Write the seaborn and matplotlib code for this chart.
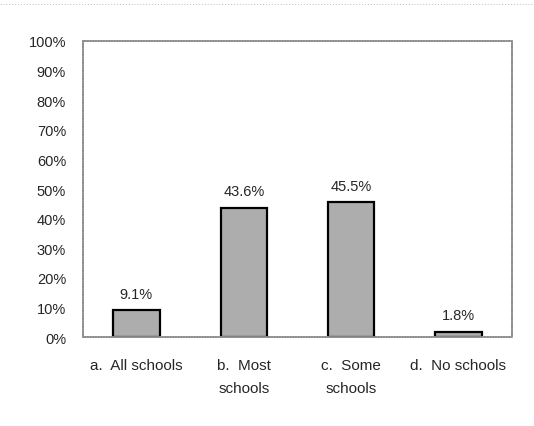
import pandas as pd
import numpy as np
import matplotlib.pyplot as plt
import seaborn as sns

# values
categories = ["a.  All schools", "b.  Most\nschools", "c.  Some\nschools", "d.  No schools"]
values = [9.1, 43.6, 45.5, 1.8]
value_labels = ["9.1%", "43.6%", "45.5%", "1.8%"]
y_ticks = list(range(0, 101, 10))
y_tick_labels = [f"{t}%" for t in y_ticks]

sns.set_theme(style="white")
plt.rcParams['font.family'] = ['Liberation Sans', 'DejaVu Sans']

df = pd.DataFrame({"category": categories, "value": values})

fig = plt.figure(figsize=(5.34, 4.27), dpi=100)
ax = fig.add_axes([0.155, 0.208, 0.804, 0.694])

sns.barplot(data=df, x="category", y="value", color="#adadad",
            edgecolor="black", linewidth=1.6, width=0.43, saturation=1, ax=ax)

for i, (v, lab) in enumerate(zip(values, value_labels)):
    ax.text(i, v + 3.2, lab, ha="center", va="bottom", fontsize=10.5)

ax.set_ylim(0, 100)
ax.set_yticks(y_ticks)
ax.set_yticklabels(y_tick_labels, fontsize=10.5)
ax.set_xlabel("")
ax.set_ylabel("")
ax.tick_params(axis="both", length=0)
ax.tick_params(axis="y", pad=12)
ax.tick_params(axis="x", pad=15)
for lbl in ax.get_xticklabels():
    lbl.set_fontsize(11)
    lbl.set_linespacing(1.85)
    lbl.set_verticalalignment("top")

for side in ["top", "bottom", "left", "right"]:
    ax.spines[side].set_visible(True)
    ax.spines[side].set_color("#8c8c8c")
    ax.spines[side].set_linewidth(1.2)
    ax.spines[side].set_linestyle((0, (1, 0.6)))

# faint dotted scan line along the top
fig.add_artist(plt.Line2D([0.0, 1.0], [0.988, 0.988], color="#bbbbbb",
                          linewidth=0.7, linestyle=(0, (1, 2)),
                          transform=fig.transFigure))

fig.savefig("out.png", dpi=100)
